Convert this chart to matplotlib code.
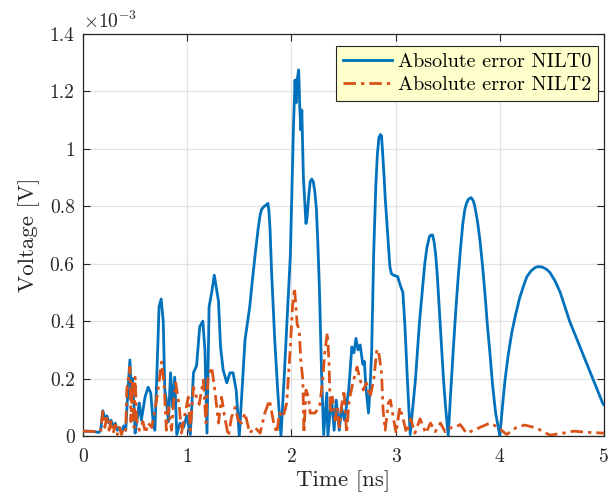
import matplotlib
matplotlib.use("Agg")
import matplotlib.pyplot as plt

# Absolute error of the two inversion methods (values in units of 1e-3 V)
t_nilt0 = [0.00, 0.10, 0.15, 0.17, 0.19, 0.21, 0.23, 0.25, 0.27, 0.29, 0.31, 0.33, 0.35, 0.37, 0.39,
           0.41, 0.43, 0.45, 0.465, 0.475, 0.49, 0.50, 0.52, 0.54, 0.56, 0.595, 0.625, 0.65, 0.675,
           0.69, 0.705, 0.73, 0.75, 0.77, 0.785, 0.80, 0.82, 0.84, 0.86, 0.88, 0.90, 0.93, 0.965,
           0.995, 1.03, 1.06, 1.09, 1.12, 1.15, 1.17, 1.19, 1.21, 1.235, 1.26, 1.30, 1.32, 1.345,
           1.38, 1.41, 1.44, 1.47, 1.50, 1.53, 1.555, 1.58, 1.60, 1.625, 1.65, 1.68, 1.70, 1.715,
           1.74, 1.76, 1.775, 1.785, 1.795, 1.81, 1.825, 1.84, 1.87, 1.90, 1.93, 1.955, 1.99, 2.02,
           2.035, 2.045, 2.055, 2.07, 2.08, 2.09, 2.10, 2.115, 2.14, 2.15, 2.165, 2.18, 2.195, 2.21,
           2.225, 2.24, 2.255, 2.27, 2.29, 2.31, 2.34, 2.35, 2.385, 2.41, 2.43, 2.46, 2.48,
           2.51, 2.55, 2.58, 2.60, 2.62, 2.64, 2.66, 2.685, 2.70, 2.715, 2.74, 2.755, 2.77, 2.79,
           2.80, 2.81, 2.825, 2.84, 2.855, 2.865, 2.875, 2.89, 2.90, 2.925, 2.945, 2.96, 2.98, 3.02,
           3.04, 3.07, 3.09, 3.11, 3.14, 3.165, 3.19, 3.21, 3.23, 3.255, 3.28, 3.30, 3.325, 3.34,
           3.355, 3.37, 3.385, 3.40, 3.415, 3.43, 3.445, 3.46, 3.48, 3.505, 3.53, 3.555, 3.58, 3.60,
           3.625, 3.645, 3.665, 3.68, 3.70, 3.725, 3.745, 3.76, 3.785, 3.81, 3.835, 3.86, 3.88,
           3.905, 3.93, 3.96, 4.00, 4.03, 4.05, 4.08, 4.115, 4.15, 4.19, 4.23, 4.26, 4.30, 4.34,
           4.37, 4.41, 4.45, 4.48, 4.53, 4.58, 4.62, 4.67, 4.72, 4.77, 4.82, 4.87, 4.93, 4.99, 5.00]
err_nilt0 = [0.017, 0.016, 0.012, 0.02, 0.088, 0.06, 0.07, 0.045, 0.055, 0.03, 0.045, 0.02, 0.03, 0.01, 0.035,
             0.02, 0.15, 0.265, 0.15, 0.2, 0.1, 0.01, 0.06, 0.115, 0.055, 0.135, 0.17, 0.15, 0.04,
             0.02, 0.17, 0.45, 0.477, 0.40, 0.16, 0.125, 0.05, 0.22, 0.10, 0.205, 0.005, 0.045, 0.03,
             0.07, 0.005, 0.22, 0.245, 0.38, 0.40, 0.30, 0.01, 0.45, 0.50, 0.56, 0.47, 0.31, 0.23,
             0.185, 0.22, 0.22, 0.16, 0.0, 0.18, 0.335, 0.40, 0.45, 0.54, 0.625, 0.72, 0.77, 0.79,
             0.80, 0.805, 0.81, 0.78, 0.72, 0.57, 0.45, 0.335, 0.15, 0.0, 0.20, 0.38, 0.63, 1.08,
             1.24, 1.16, 1.24, 1.275, 1.15, 1.066, 1.135, 0.90, 0.74, 0.76, 0.83, 0.885, 0.895, 0.885,
             0.85, 0.79, 0.66, 0.50, 0.21, 0.005, 0.15, 0.0, 0.135, 0.02, 0.125, 0.02, 0.10,
             0.055, 0.16, 0.31, 0.29, 0.34, 0.30, 0.317, 0.25, 0.26, 0.17, 0.08, 0.17, 0.29, 0.64,
             0.76, 0.87, 0.98, 1.04, 1.05, 1.045, 0.99, 0.90, 0.83, 0.695, 0.59, 0.565, 0.56, 0.555,
             0.53, 0.50, 0.38, 0.22, 0.005, 0.10, 0.195, 0.30, 0.40, 0.50, 0.60, 0.655, 0.695, 0.70,
             0.70, 0.675, 0.63, 0.56, 0.47, 0.38, 0.29, 0.195, 0.10, 0.0, 0.16, 0.31, 0.45, 0.55,
             0.66, 0.74, 0.79, 0.81, 0.825, 0.83, 0.82, 0.80, 0.75, 0.68, 0.59, 0.485, 0.39,
             0.29, 0.18, 0.08, 0.0, 0.12, 0.195, 0.28, 0.36, 0.42, 0.48, 0.525, 0.555, 0.575, 0.587,
             0.59, 0.588, 0.58, 0.57, 0.54, 0.50, 0.455, 0.40, 0.355, 0.31, 0.265, 0.22, 0.165, 0.112, 0.108]

t_nilt2 = [0.00, 0.10, 0.15, 0.17, 0.19, 0.21, 0.23, 0.25, 0.27, 0.29, 0.31, 0.33, 0.35, 0.37, 0.39,
           0.41, 0.42, 0.45, 0.46, 0.475, 0.49, 0.50, 0.515, 0.54, 0.575, 0.60, 0.625, 0.66, 0.69,
           0.72, 0.755, 0.78, 0.80, 0.82, 0.85, 0.87, 0.89, 0.925, 0.945, 0.98, 1.01, 1.03, 1.06,
           1.09, 1.115, 1.155, 1.18, 1.20, 1.235, 1.265, 1.30, 1.33, 1.36, 1.395, 1.425, 1.46, 1.49,
           1.52, 1.555, 1.60, 1.65, 1.70, 1.745, 1.79, 1.83, 1.86, 1.885, 1.92, 1.955, 1.99, 2.01,
           2.03, 2.045, 2.055, 2.075, 2.09, 2.11, 2.12, 2.14, 2.165, 2.18, 2.225, 2.27, 2.30, 2.32,
           2.345, 2.36, 2.375, 2.395, 2.42, 2.44, 2.46, 2.48, 2.505, 2.53, 2.555, 2.59, 2.63, 2.66,
           2.69, 2.72, 2.755, 2.79, 2.82, 2.835, 2.865, 2.88, 2.90, 2.93, 2.95, 2.98, 3.005, 3.04,
           3.075, 3.105, 3.145, 3.185, 3.235, 3.29, 3.335, 3.38, 3.43, 3.475, 3.52, 3.57, 3.62, 3.68,
           3.75, 3.81, 3.905, 3.985, 4.065, 4.16, 4.24, 4.35, 4.48, 4.61, 4.71, 4.83, 4.99, 5.00]
err_nilt2 = [0.017, 0.016, 0.012, 0.02, 0.085, 0.03, 0.07, 0.02, 0.055, 0.01, 0.04, 0.005, 0.03, 0.005, 0.03,
             0.02, 0.16, 0.24, 0.05, 0.195, 0.03, 0.205, 0.055, 0.02, 0.05, 0.01, 0.045, 0.03, 0.09,
             0.16, 0.258, 0.17, 0.02, 0.10, 0.02, 0.12, 0.185, 0.10, 0.01, 0.08, 0.135, 0.02, 0.17,
             0.135, 0.11, 0.195, 0.045, 0.205, 0.24, 0.16, 0.045, 0.135, 0.065, 0.0, 0.065, 0.10, 0.055,
             0.045, 0.08, 0.01, 0.03, 0.01, 0.08, 0.125, 0.045, 0.01, 0.08, 0.065, 0.115, 0.31, 0.45,
             0.515, 0.44, 0.39, 0.37, 0.265, 0.195, 0.01, 0.16, 0.135, 0.08, 0.08, 0.10, 0.195, 0.29,
             0.36, 0.265, 0.08, 0.135, 0.055, 0.10, 0.03, 0.10, 0.16, 0.01, 0.125, 0.185, 0.24, 0.195,
             0.16, 0.185, 0.135, 0.195, 0.30, 0.30, 0.22, 0.09, 0.02, 0.115, 0.125, 0.06, 0.01, 0.10,
             0.055, 0.01, 0.06, 0.01, 0.06, 0.01, 0.045, 0.015, 0.045, 0.015, 0.028, 0.03, 0.04, 0.01,
             0.02, 0.03, 0.045, 0.03, 0.005, 0.03, 0.038, 0.028, 0.003, 0.01, 0.017, 0.013, 0.01, 0.01]

x_ticks = [0, 1, 2, 3, 4, 5]
y_ticks = [0, 0.2, 0.4, 0.6, 0.8, 1.0, 1.2, 1.4]
y_tick_labels = ["0", "0.2", "0.4", "0.6", "0.8", "1", "1.2", "1.4"]
series_names = ["Absolute error NILT0", "Absolute error NILT2"]

plt.rcParams["font.family"] = ["cmr10", "DejaVu Serif"]
plt.rcParams["mathtext.fontset"] = "cm"
plt.rcParams["axes.unicode_minus"] = False

blue = "#0072BD"
orange = "#D95319"
ink = "#262626"

fig = plt.figure(figsize=(6.08, 5.0), dpi=100)
ax = fig.add_axes([83 / 608, 64 / 500, 521 / 608, 402 / 500])

ax.plot(t_nilt0, err_nilt0, color=blue, lw=2.0, label=series_names[0], zorder=3,
        solid_joinstyle="round")
ax.plot(t_nilt2, err_nilt2, color=orange, lw=2.0, dashes=(4.5, 1.8, 1.2, 1.8),
        label=series_names[1], zorder=4)

ax.set_xlim(0, 5)
ax.set_ylim(0, 1.4)
ax.set_xticks(x_ticks)
ax.set_xticklabels([str(v) for v in x_ticks])
ax.set_yticks(y_ticks)
ax.set_yticklabels(y_tick_labels)

ax.grid(True, color="#e3e3e3", lw=0.9, zorder=0)
ax.set_axisbelow(True)
ax.tick_params(direction="in", length=5, width=0.8, top=True, right=True,
               labelsize=14, colors=ink)
ax.tick_params(axis="x", pad=9)
ax.tick_params(axis="y", pad=6)
for s in ax.spines.values():
    s.set_color(ink)
    s.set_linewidth(0.9)

ax.set_xlabel("Time [ns]", fontsize=16.5, color=ink, labelpad=3)
ax.set_ylabel("Voltage [V]", fontsize=16.5, color=ink, labelpad=7)
ax.text(0.0, 1.005, r"$\times10^{-3}$", transform=ax.transAxes, fontsize=14,
        color=ink, ha="left", va="bottom")

leg = ax.legend(loc="upper right", bbox_to_anchor=((598 - 83) / 521, (436 - 46) / 402),
                borderaxespad=0, fontsize=14.5, handlelength=2.4, handletextpad=0.3,
                labelspacing=0.22, borderpad=0.35, fancybox=False, framealpha=1)
leg.get_frame().set_facecolor("#FFFFCC")
leg.get_frame().set_edgecolor(ink)
leg.get_frame().set_linewidth(0.8)

fig.savefig("out.png", dpi=100)
